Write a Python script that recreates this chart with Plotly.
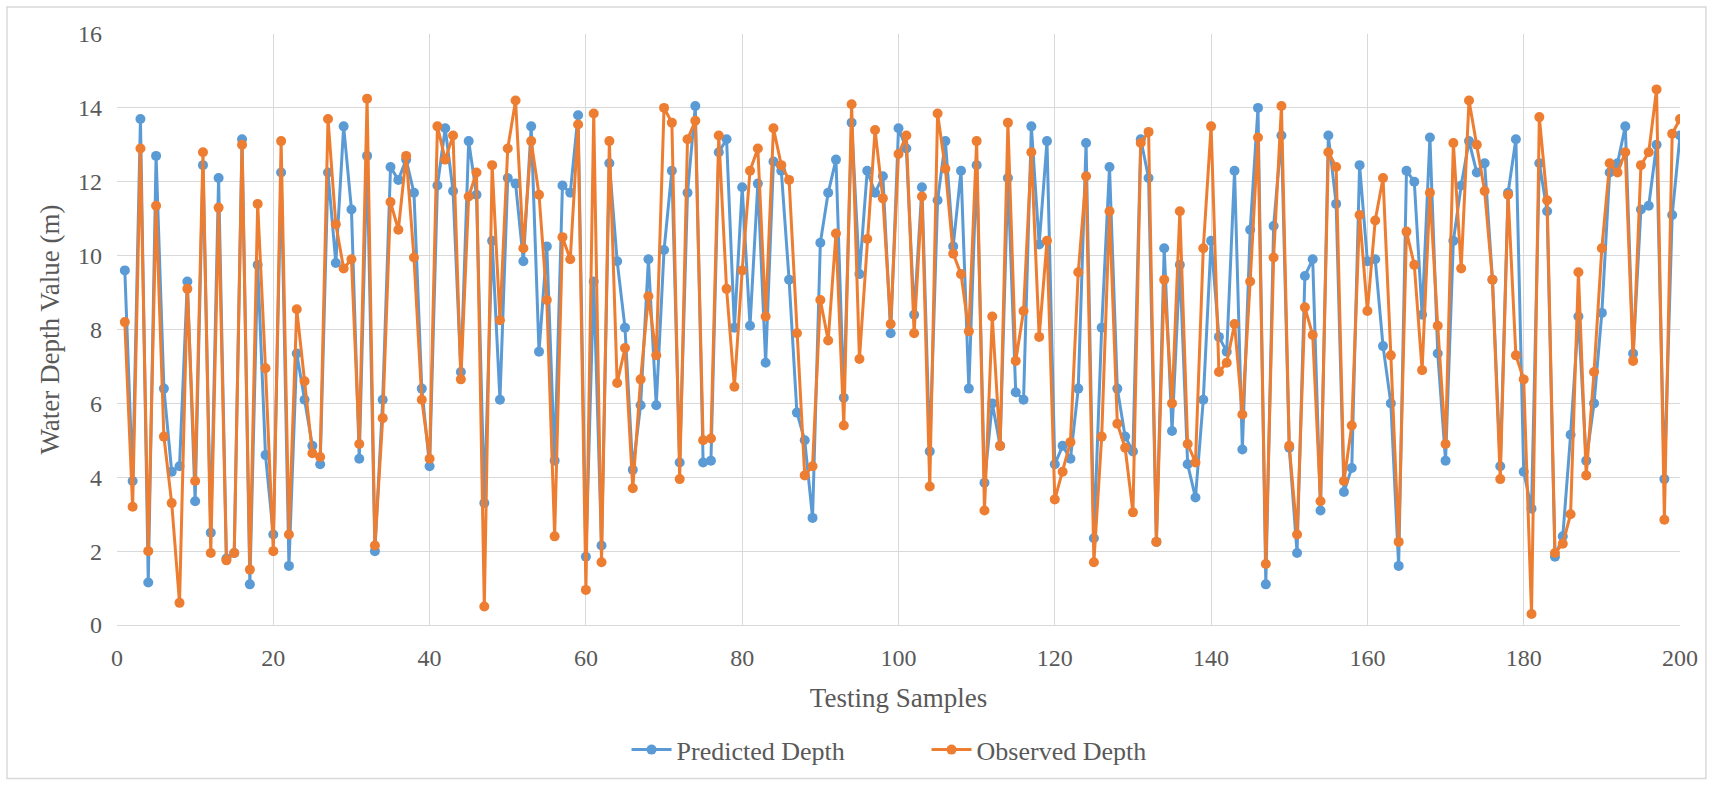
import plotly.graph_objects as go

# Sample index of each testing record
samples = list(range(1, 201))

# Model output (m)
predicted_depth = [
    9.6, 3.9, 13.7, 1.15, 12.7, 6.4, 4.15, 4.3, 9.3, 3.35,
    12.45, 2.5, 12.1, 1.8, 1.95, 13.15, 1.1, 9.75, 4.6, 2.45,
    12.25, 1.6, 7.35, 6.1, 4.85, 4.35, 12.25, 9.8, 13.5, 11.25,
    4.5, 12.7, 2.0, 6.1, 12.4, 12.05, 12.6, 11.7, 6.4, 4.3,
    11.9, 13.45, 11.75, 6.85, 13.1, 11.65, 3.3, 10.4, 6.1, 12.1,
    11.95, 9.85, 13.5, 7.4, 10.25, 4.45, 11.9, 11.7, 13.8, 1.85,
    9.3, 2.15, 12.5, 9.85, 8.05, 4.2, 5.95, 9.9, 5.95, 10.15,
    12.3, 4.4, 11.7, 14.05, 4.4, 4.45, 12.8, 13.15, 8.05, 11.85,
    8.1, 11.95, 7.1, 12.55, 12.3, 9.35, 5.75, 5.0, 2.9, 10.35,
    11.7, 12.6, 6.15, 13.6, 9.5, 12.3, 11.7, 12.15, 7.9, 13.45,
    12.9, 8.4, 11.85, 4.7, 11.5, 13.1, 10.25, 12.3, 6.4, 12.45,
    3.85, 6.0, 4.85, 12.1, 6.3, 6.1, 13.5, 10.3, 13.1, 4.35,
    4.85, 4.5, 6.4, 13.05, 2.35, 8.05, 12.4, 6.4, 5.1, 4.7,
    13.15, 12.1, 2.25, 10.2, 5.25, 9.75, 4.35, 3.45, 6.1, 10.4,
    7.8, 7.4, 12.3, 4.75, 10.7, 14.0, 1.1, 10.8, 13.25, 4.8,
    1.95, 9.45, 9.9, 3.1, 13.25, 11.4, 3.6, 4.25, 12.45, 9.85,
    9.9, 7.55, 6.0, 1.6, 12.3, 12.0, 8.4, 13.2, 7.35, 4.45,
    10.4, 11.9, 13.1, 12.25, 12.5, 9.35, 4.3, 11.7, 13.15, 4.15,
    3.15, 12.5, 11.2, 1.85, 2.4, 5.15, 8.35, 4.45, 6.0, 8.45,
    12.25, 12.5, 13.5, 7.35, 11.25, 11.35, 13.0, 3.95, 11.1, 13.25,
]

# Measured depth (m)
observed_depth = [
    8.2, 3.2, 12.9, 2.0, 11.35, 5.1, 3.3, 0.6, 9.1, 3.9,
    12.8, 1.95, 11.3, 1.75, 1.95, 13.0, 1.5, 11.4, 6.95, 2.0,
    13.1, 2.45, 8.55, 6.6, 4.65, 4.55, 13.7, 10.85, 9.65, 9.9,
    4.9, 14.25, 2.15, 5.6, 11.45, 10.7, 12.7, 9.95, 6.1, 4.5,
    13.5, 12.6, 13.25, 6.65, 11.6, 12.25, 0.5, 12.45, 8.25, 12.9,
    14.2, 10.2, 13.1, 11.65, 8.8, 2.4, 10.5, 9.9, 13.55, 0.95,
    13.85, 1.7, 13.1, 6.55, 7.5, 3.7, 6.65, 8.9, 7.3, 14.0,
    13.6, 3.95, 13.15, 13.65, 5.0, 5.05, 13.25, 9.1, 6.45, 9.6,
    12.3, 12.9, 8.35, 13.45, 12.45, 12.05, 7.9, 4.05, 4.3, 8.8,
    7.7, 10.6, 5.4, 14.1, 7.2, 10.45, 13.4, 11.55, 8.15, 12.75,
    13.25, 7.9, 11.6, 3.75, 13.85, 12.35, 10.05, 9.5, 7.95, 13.1,
    3.1, 8.35, 4.85, 13.6, 7.15, 8.5, 12.8, 7.8, 10.4, 3.4,
    4.15, 4.95, 9.55, 12.15, 1.7, 5.1, 11.2, 5.45, 4.8, 3.05,
    13.05, 13.35, 2.25, 9.35, 6.0, 11.2, 4.9, 4.4, 10.2, 13.5,
    6.85, 7.1, 8.15, 5.7, 9.3, 13.2, 1.65, 9.95, 14.05, 4.85,
    2.45, 8.6, 7.85, 3.35, 12.8, 12.4, 3.9, 5.4, 11.1, 8.5,
    10.95, 12.1, 7.3, 2.25, 10.65, 9.75, 6.9, 11.7, 8.1, 4.9,
    13.05, 9.65, 14.2, 13.0, 11.75, 9.35, 3.95, 11.65, 7.3, 6.65,
    0.3, 13.75, 11.5, 1.95, 2.2, 3.0, 9.55, 4.05, 6.85, 10.2,
    12.5, 12.25, 12.8, 7.15, 12.45, 12.8, 14.5, 2.85, 13.3, 13.7,
]

BLUE = "#5B9BD5"
ORANGE = "#ED7D31"
GRID = "#D9D9D9"
TEXT = "#595959"
FONT = "Liberation Serif"

fig = go.Figure()
fig.add_trace(go.Scatter(
    x=samples, y=predicted_depth, mode="lines+markers", name="Predicted Depth",
    line=dict(color=BLUE, width=3),
    marker=dict(color=BLUE, size=10),
))
fig.add_trace(go.Scatter(
    x=samples, y=observed_depth, mode="lines+markers", name="Observed Depth",
    line=dict(color=ORANGE, width=3),
    marker=dict(color=ORANGE, size=10),
))

fig.update_layout(
    width=1713, height=785,
    margin=dict(l=117, r=33, t=34, b=158),
    paper_bgcolor="white", plot_bgcolor="white",
    font=dict(family=FONT, color=TEXT, size=24),
    showlegend=True,
    legend=dict(
        orientation="h", x=0.326, xanchor="left", y=-0.211, yanchor="middle",
        font=dict(family=FONT, color=TEXT, size=26), itemwidth=40,
        entrywidth=245, entrywidthmode="pixels",
        bgcolor="rgba(0,0,0,0)",
    ),
    xaxis=dict(
        range=[0, 200], dtick=20, tick0=0, showgrid=True, gridcolor=GRID, gridwidth=1,
        zeroline=False, showline=True, linecolor=GRID, linewidth=1, ticks="",
        ticklabelstandoff=11,
        tickfont=dict(family=FONT, color=TEXT, size=24),
        title=dict(text="Testing Samples", standoff=18,
                   font=dict(family=FONT, color=TEXT, size=27)),
    ),
    yaxis=dict(
        range=[0, 16], dtick=2, tick0=0, showgrid=True, gridcolor=GRID, gridwidth=1,
        zeroline=False, showline=False, ticks="",
        ticklabelstandoff=14,
        tickfont=dict(family=FONT, color=TEXT, size=24),
    ),
    annotations=[dict(
        text="Water Depth Value (m)", textangle=-90, showarrow=False,
        xref="paper", yref="paper", x=-0.0435, y=0.5,
        xanchor="center", yanchor="middle",
        font=dict(family=FONT, color=TEXT, size=27),
    )],
    shapes=[dict(
        type="rect", xref="paper", yref="paper",
        x0=-0.0704, x1=1.0166, y0=-0.2597, y1=1.0455,
        line=dict(color="#D9D9D9", width=1.5), fillcolor="rgba(0,0,0,0)", layer="below",
    )],
)

fig.write_html("out.html")
